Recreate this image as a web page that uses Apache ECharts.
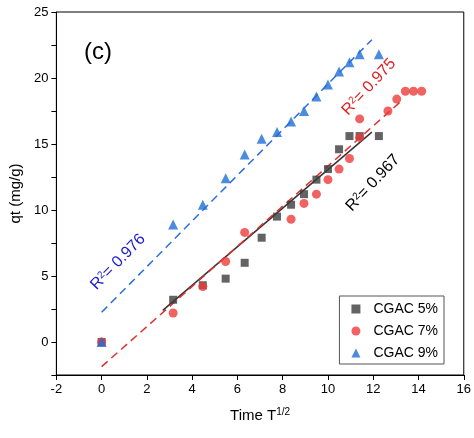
<!DOCTYPE html>
<html><head><meta charset="utf-8">
<script src="https://cdn.jsdelivr.net/npm/echarts@6/dist/echarts.min.js"></script>
<style>html,body{margin:0;background:#fff}#c{width:474px;height:438px}</style>
</head><body><div id="c"></div>
<script>
// sqrt(t) positions
const xs = [0, 3.16, 4.47, 5.48, 6.32, 7.07, 7.75, 8.37, 8.94, 9.49, 10, 10.49, 10.95, 11.4, 12.25];
const y5 = [0, 3.2, 4.3, 4.8, 6.0, 7.9, 9.5, 10.4, 11.2, 12.3, 13.1, 14.6, 15.6, 15.6, 15.6];
const x7 = [0, 3.16, 4.47, 5.48, 6.32, 8.37, 8.94, 9.49, 10, 10.49, 10.95, 11.4, 11.4, 12.65, 13.04, 13.42, 13.78, 14.14];
const y7 = [0, 2.2, 4.2, 6.1, 8.3, 9.3, 10.5, 11.2, 12.3, 13.1, 13.9, 15.5, 16.9, 17.5, 18.4, 19.0, 19.0, 19.0];
const y9 = [0, 8.9, 10.4, 12.4, 14.2, 15.4, 15.9, 16.7, 17.5, 18.6, 19.5, 20.5, 21.2, 21.8, 21.8];
const fit5 = [[2.7, 2.4], [11.94, 15.9]];
const fit7 = [[0, -1.87], [13.27, 18.3]];
const fit9 = [[0, 2.25], [11.94, 22.9]];

const pts = (x, y) => x.map((v, i) => [v, y[i]]);
const ch = echarts.init(document.getElementById('c'));
const ax = {color: '#000', fontSize: 13, fontFamily: 'Arial'};
ch.setOption({
  animation: false,
  grid: {left: 52, right: 9, top: 12, bottom: 63, show: true, borderColor: '#000', borderWidth: 1},
  xAxis: {type: 'value', min: -2, max: 16, interval: 2,
    name: 'Time T{s|1/2}', nameLocation: 'middle', nameGap: 32,
    nameTextStyle: {color: '#000', fontSize: 15, fontFamily: 'Arial', rich: {s: {fontSize: 10, verticalAlign: 'top', padding: [0, 0, 8, 0]}}},
    axisLine: {onZero: false, lineStyle: {color: '#000'}}, axisTick: {lineStyle: {color: '#000'}},
    splitLine: {show: false}, axisLabel: ax},
  yAxis: {type: 'value', min: -2.5, max: 25, interval: 2.5,
    name: 'qt (mg/g)', nameLocation: 'middle', nameGap: 30,
    nameTextStyle: {color: '#000', fontSize: 15, fontFamily: 'Arial'},
    axisLine: {onZero: false, lineStyle: {color: '#000'}}, axisTick: {lineStyle: {color: '#000'}},
    splitLine: {show: false},
    axisLabel: Object.assign({formatter: v => (v % 5 === 0 ? v : '')}, ax)},
  legend: {right: 30, bottom: 74, orient: 'vertical', itemWidth: 9, itemHeight: 9, itemGap: 8,
    borderColor: '#555', borderWidth: 1, borderRadius: 0, padding: [6, 6, 4, 12],
    textStyle: {fontSize: 14, fontFamily: 'Arial', color: '#000', padding: [0, 0, 0, 8]},
    data: ['CGAC 5%', 'CGAC 7%', 'CGAC 9%']},
  series: [
    {type: 'line', data: fit9, symbol: 'none', lineStyle: {color: '#2a6fdb', type: [8, 5], width: 1.5}, silent: true, z: 1},
    {type: 'line', data: fit5, symbol: 'none', lineStyle: {color: '#333', type: 'solid', width: 1.5}, silent: true, z: 1},
    {type: 'line', data: fit7, symbol: 'none', lineStyle: {color: '#e03030', type: [8, 5], width: 1.5}, silent: true, z: 1},
    {name: 'CGAC 5%', type: 'scatter', symbol: 'rect', symbolSize: 8, itemStyle: {color: '#3c3c3c'}, data: pts(xs, y5), z: 3},
    {name: 'CGAC 7%', type: 'scatter', symbol: 'circle', symbolSize: 9, itemStyle: {color: '#ee3b3b'}, data: pts(x7, y7), z: 3},
    {name: 'CGAC 9%', type: 'scatter', symbol: 'triangle', symbolSize: 10, itemStyle: {color: '#1f6fd6'}, data: pts(xs, y9), z: 4}
  ],
  graphic: [
    {type: 'text', left: 84, top: 40, style: {text: '(c)', fontSize: 24, fontFamily: 'Arial', fill: '#000'}},
    {type: 'text', x: 118, y: 262, rotation: 0.8, style: {text: 'R{s|2}= 0.976', align: 'center', verticalAlign: 'middle', fontSize: 16, fontFamily: 'Arial', fill: '#1a1acc', rich: {s: {fontSize: 10, verticalAlign: 'top', fill: '#1a1acc'}}}},
    {type: 'text', x: 369, y: 87, rotation: 0.82, style: {text: 'R{s|2}= 0.975', align: 'center', verticalAlign: 'middle', fontSize: 16, fontFamily: 'Arial', fill: '#e02020', rich: {s: {fontSize: 10, verticalAlign: 'top', fill: '#e02020'}}}},
    {type: 'text', x: 373, y: 183, rotation: 0.82, style: {text: 'R{s|2}= 0.967', align: 'center', verticalAlign: 'middle', fontSize: 16, fontFamily: 'Arial', fill: '#000', rich: {s: {fontSize: 10, verticalAlign: 'top', fill: '#000'}}}}
  ]
});
</script></body></html>
